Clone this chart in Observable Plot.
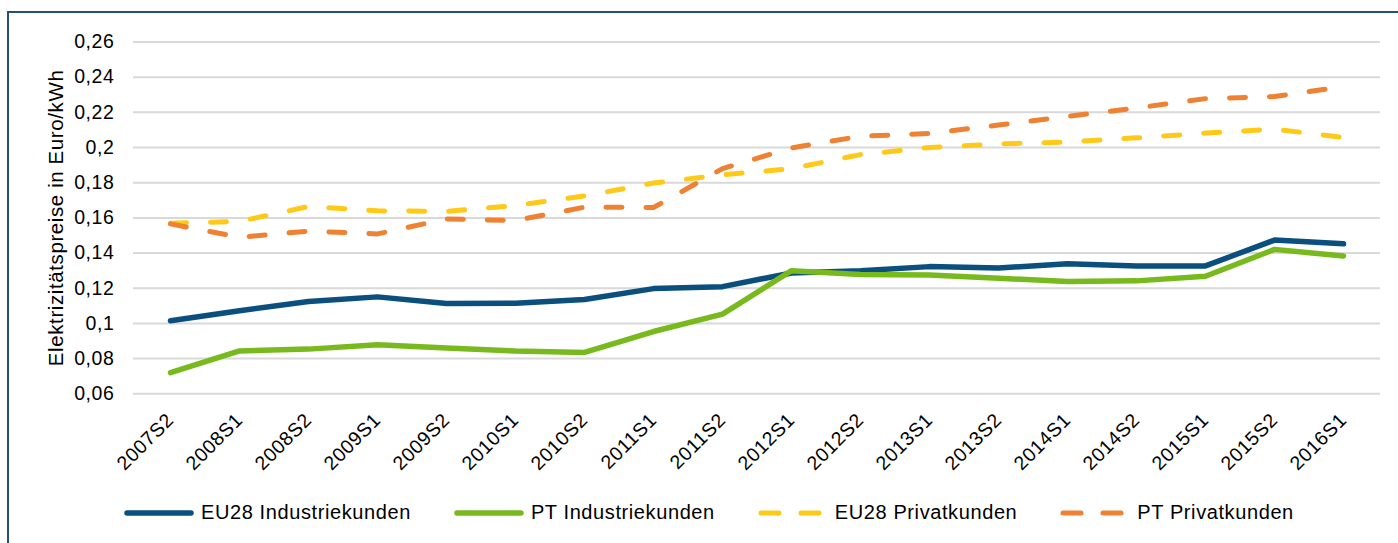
<!DOCTYPE html>
<html>
<head>
<meta charset="utf-8">
<script src="https://cdn.jsdelivr.net/npm/d3@7"></script>
<script src="https://cdn.jsdelivr.net/npm/@observablehq/plot@0.6"></script>
<style>
  html, body { margin: 0; padding: 0; background: #fff; width: 1398px; height: 543px; overflow: hidden; }
  #frame { position: absolute; left: 7px; top: 11px; width: 1500px; height: 700px; border-left: 2px solid #24507d; border-top: 2px solid #24507d; z-index: 5; pointer-events: none; }
  #chart { position: absolute; left: 0; top: 0; z-index: 1; }
  #chart svg text { letter-spacing: 0.6px; }
  #legend { position: absolute; left: 123px; top: 501px; display: flex; align-items: center; gap: 42px; z-index: 2;
    font-family: "Liberation Sans", Arial, sans-serif; font-size: 20px; letter-spacing: 0.6px; color: #000; }
  .item { display: flex; align-items: center; }
  .item svg { display: block; margin-right: 6px; }
</style>
</head>
<body>
<div id="chart"></div>
<div id="legend"></div>
<div id="frame"></div>
<script>
const periods = ["2007S2","2008S1","2008S2","2009S1","2009S2","2010S1","2010S2","2011S1","2011S2","2012S1","2012S2","2013S1","2013S2","2014S1","2014S2","2015S1","2015S2","2016S1"];

const eu28Industrie = [0.1015, 0.1072, 0.1125, 0.1151, 0.1113, 0.1115, 0.1136, 0.1198, 0.1209, 0.1287, 0.1300, 0.1323, 0.1315, 0.1340, 0.1327, 0.1327, 0.1474, 0.1453];
const ptIndustrie   = [0.0720, 0.0844, 0.0854, 0.0879, 0.0860, 0.0843, 0.0835, 0.0954, 0.1053, 0.1300, 0.1278, 0.1276, 0.1257, 0.1238, 0.1242, 0.1268, 0.1421, 0.1383];
const eu28Privat    = [0.1570, 0.1580, 0.1665, 0.1640, 0.1637, 0.1670, 0.1725, 0.1798, 0.1845, 0.1880, 0.1960, 0.2000, 0.2020, 0.2032, 0.2055, 0.2082, 0.2105, 0.2057];
const ptPrivat      = [0.1566, 0.1490, 0.1525, 0.1509, 0.1594, 0.1585, 0.1661, 0.1659, 0.1880, 0.1998, 0.2064, 0.2080, 0.2128, 0.2177, 0.2225, 0.2278, 0.2290, 0.2346];

const seriesNames = ["EU28 Industriekunden", "PT Industriekunden", "EU28 Privatkunden", "PT Privatkunden"];
const seriesColors = ["#0a4f7e", "#78b91e", "#ffc918", "#ef8133"];
const seriesDashed = [false, false, true, true];
const seriesValues = [eu28Industrie, ptIndustrie, eu28Privat, ptPrivat];

const yTicks = [0.06, 0.08, 0.10, 0.12, 0.14, 0.16, 0.18, 0.20, 0.22, 0.24, 0.26];
const yLabel = "Elektrizitätspreise in Euro/kWh";
const fmt = v => String(+v.toFixed(2)).replace(".", ",");

const lineMarks = seriesValues.map((vals, s) => {
  const data = periods.map((p, i) => ({period: p, value: vals[i]}));
  return Plot.line(data, {
    x: "period", y: "value",
    stroke: seriesColors[s],
    strokeWidth: seriesDashed[s] ? 5 : 5.5,
    strokeDasharray: seriesDashed[s] ? "16 24" : null,
    strokeLinecap: "round",
    strokeLinejoin: "round"
  });
});

const chart = Plot.plot({
  width: 1398,
  height: 490,
  marginLeft: 133,
  marginRight: 18,
  marginTop: 41.5,
  marginBottom: 96.7,
  x: {type: "point", domain: periods, padding: 0.5, label: null},
  y: {domain: [0.06, 0.26], label: null},
  style: {fontFamily: "'Liberation Sans', Arial, sans-serif", fontSize: "19.5px", color: "#000", background: "white"},
  marks: [
    Plot.gridY(yTicks, {stroke: "#d9d9d9", strokeOpacity: 1, strokeWidth: 2}),
    Plot.axisY(yTicks, {tickSize: 0, tickPadding: 19, tickFormat: fmt, label: null}),
    Plot.axisX({tickRotate: -45, tickSize: 0, tickPadding: 23, label: null}),
    ...lineMarks,
    Plot.text([yLabel], {frameAnchor: "left", rotate: -90, dx: -71, textAnchor: "middle", lineAnchor: "bottom", fontSize: 20.5, fill: "#000"})
  ]
});
document.getElementById("chart").appendChild(chart);

const legend = document.getElementById("legend");
seriesNames.forEach((name, s) => {
  const item = document.createElement("div");
  item.className = "item";
  const dash = seriesDashed[s] ? 'stroke-dasharray="18 22"' : "";
  item.innerHTML = `<svg width="72" height="14"><line x1="4" x2="68" y1="7" y2="7" stroke="${seriesColors[s]}" stroke-width="${seriesDashed[s] ? 5 : 5.5}" stroke-linecap="round" ${dash}/></svg><span>${name}</span>`;
  legend.appendChild(item);
});
</script>
</body>
</html>
